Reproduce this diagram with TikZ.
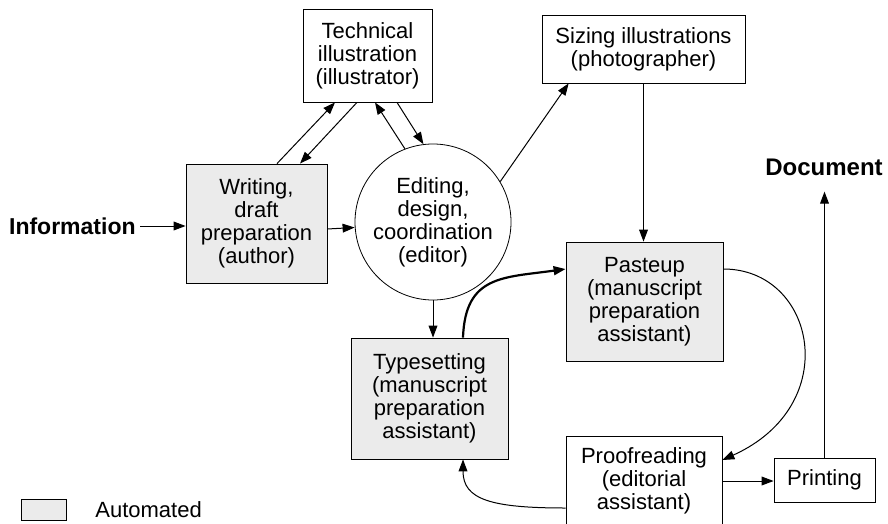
\documentclass[tikz,border=0pt]{standalone}
\usepackage{fontspec}
\setmainfont{Liberation Sans}
\usetikzlibrary{arrows.meta}
\begin{document}
\begin{tikzpicture}[x=0.5pt,y=-0.5pt,
  font=\fontsize{11}{11.5}\selectfont,
  box/.style={draw,align=center,inner sep=0pt},
  autobox/.style={box,fill=black!8},
  arr/.style={-{Triangle[length=6pt,width=4.4pt]},line width=0.5pt}]
  \useasboundingbox (0,0) rectangle (888,524);
  \node[box,minimum width=64.5pt,minimum height=46.5pt] (tech) at (367.5,55.5) {Technical\\illustration\\(illustrator)};
  \node[autobox,minimum width=70.5pt,minimum height=59.5pt] (write) at (256.5,223.5) {Writing,\\draft\\preparation\\(author)};
  \node[draw,circle,align=center,inner sep=0pt,minimum size=78pt] (edit) at (433,222) {Editing,\\design,\\coordination\\(editor)};
  \node[box,minimum width=101.5pt,minimum height=34pt] (size) at (643.5,49) {Sizing illustrations\\(photographer)};
  \node[autobox,minimum width=78.5pt,minimum height=59.5pt] (paste) at (644.5,301.5) {Pasteup\\(manuscript\\preparation\\assistant)};
  \node[autobox,minimum width=78.5pt,minimum height=60.5pt] (type) at (429.5,398.5) {Typesetting\\(manuscript\\preparation\\assistant)};
  \node[box,minimum width=78pt,minimum height=45pt] (proof) at (644,481) {Proofreading\\(editorial\\assistant)};
  \node[box,minimum width=50.5pt,minimum height=22pt] (print) at (824.5,480) {Printing};
  \node[font=\fontsize{11.5}{12}\selectfont\bfseries,anchor=east,inner sep=2pt] (info) at (140,226) {Information};
  \node[font=\fontsize{12}{13}\selectfont\bfseries] (doc) at (824,167) {Document};
  \node[draw,fill=black!8,minimum width=22.5pt,minimum height=10.5pt,inner sep=0pt] (legbox) at (43.5,509.5) {};
  \node[anchor=west,inner sep=0pt] (legtext) at (95,510) {Automated};

  \draw[arr] (info.east) -- (info.east -| write.west);
  \draw[arr] ([yshift=-2.75pt]write.east) -- ([yshift=-2.75pt]edit.west);
  \draw[arr] ([xshift=10.25pt]write.north) -- ([xshift=-16.25pt]tech.south);
  \draw[arr] ([xshift=-5.25pt]tech.south) -- ([xshift=21.75pt]write.north);
  \draw[arr] (edit.111) -- ([xshift=3.75pt]tech.south);
  \draw[arr] ([xshift=14.75pt]tech.south) -- (edit.97);
  \draw[arr] (edit.31) -- ([xshift=13.5pt]size.south west);
  \draw[arr] (size.south) -- (size.south |- paste.north);
  \draw[arr] (edit.south) -- (edit.south |- type.north);
  \draw[arr,line width=1.1pt] ([xshift=16.75pt]type.north) to[out=88,in=188,looseness=1.3] ([yshift=16.25pt]paste.west);
  \draw[arr] ([yshift=16.25pt]paste.east) .. controls +(92,0) and +(122,-55) .. ([yshift=10.5pt]proof.east);
  \draw[arr] ([yshift=-13.5pt]proof.west) .. controls +(-75,0) and +(0,40) .. ([xshift=16.75pt]type.south);
  \draw[arr] (proof.east) -- (proof.east -| print.west);
  \draw[arr,shorten >=4.6pt] (print.north) -- (print.north |- doc.south);
\end{tikzpicture}
\end{document}
